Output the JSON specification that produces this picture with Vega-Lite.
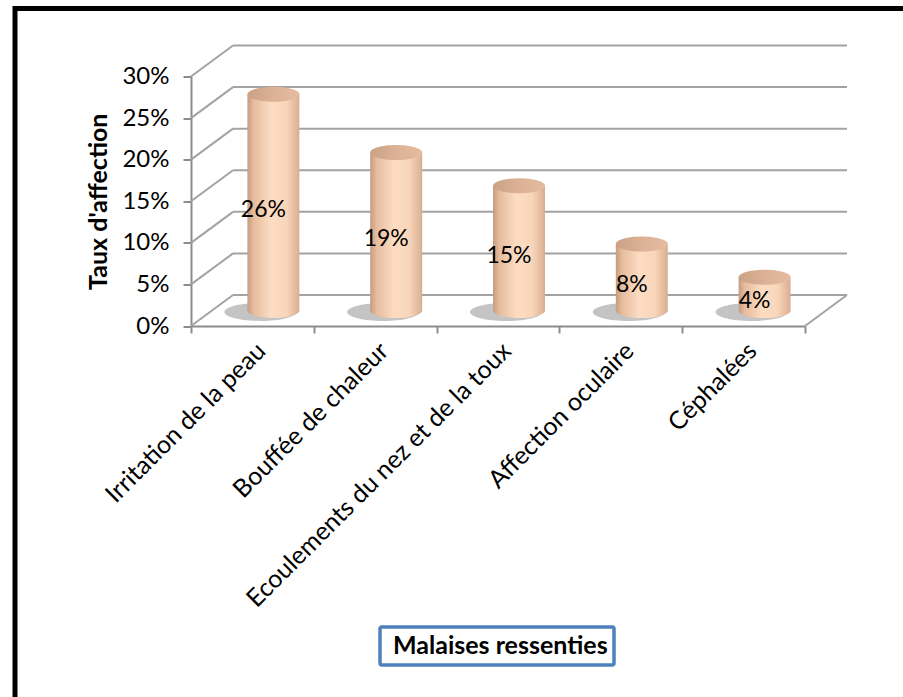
{
  "$schema": "https://vega.github.io/schema/vega-lite/v6.json",
  "autosize": {"type": "none"},
  "padding": {"left": 15, "top": 8.5, "right": 0, "bottom": 0},
  "width": 900,
  "height": 700,
  "background": "white",
  "config": {
    "view": {"stroke": "#000000", "strokeWidth": 5},
    "font": "Lato",
    "axisX": {"orient": "bottom", "offset": -382.5, "domainColor": "#8c8c8c", "domainWidth": 2, "tickColor": "#8c8c8c", "tickWidth": 2, "tickSize": 7, "tickBand": "extent", "labelAngle": -45, "labelFontSize": 25, "labelFont": "Lato", "labelColor": "#000000", "labelPadding": 5, "labelLimit": 0, "grid": false},
    "axisY": {"orient": "left", "offset": -176, "grid": false, "domainColor": "#8c8c8c", "domainWidth": 2, "tickColor": "#8c8c8c", "tickWidth": 2, "tickSize": 8, "labelFontSize": 24, "labelFont": "Lato", "labelColor": "#000000", "labelPadding": 14, "titleFontSize": 25, "titleFont": "Lato", "titleFontWeight": "bold", "titleColor": "#000000", "titlePadding": 10}
  },
  "datasets": {
    "bars": [
      {"cat": "Irritation de la peau", "value": 0.26},
      {"cat": "Bouffée de chaleur", "value": 0.19},
      {"cat": "Ecoulements du nez et de la toux", "value": 0.15},
      {"cat": "Affection oculaire", "value": 0.08},
      {"cat": "Céphalées", "value": 0.04}
    ],
    "ticks": [
      {"t": 0}, {"t": 0.05}, {"t": 0.1}, {"t": 0.15}, {"t": 0.2}, {"t": 0.25}, {"t": 0.3}
    ],
    "floor": [{"t": 0}]
  },
  "resolve": {"scale": {"y": "independent"}},
  "layer": [
    {
      "layer": [
        {
          "data": {"name": "ticks"},
          "mark": {"type": "rule", "color": "#a3a3a3", "strokeWidth": 2, "xOffset": 42, "x2Offset": 42, "yOffset": -31},
          "encoding": {
            "y": {"field": "t", "type": "quantitative", "title": "Taux d'affection", "scale": {"domain": [0, 0.3], "range": [317.5, 68], "nice": false, "zero": true}, "axis": {"values": [0, 0.05, 0.1, 0.15, 0.2, 0.25, 0.3], "format": ".0%"}},
            "x": {"datum": "Irritation de la peau", "type": "nominal", "bandPosition": 0, "title": null, "scale": {"type": "band", "domain": ["Irritation de la peau", "Bouffée de chaleur", "Ecoulements du nez et de la toux", "Affection oculaire", "Céphalées"], "range": [176, 790], "paddingInner": 0, "paddingOuter": 0}},
            "x2": {"datum": "Céphalées", "bandPosition": 1}
          }
        },
        {
          "data": {"name": "ticks"},
          "mark": {"type": "rule", "color": "#a3a3a3", "strokeWidth": 2, "x2Offset": 42, "y2Offset": -31},
          "encoding": {
            "y": {"field": "t", "type": "quantitative", "title": "Taux d'affection"},
            "y2": {"field": "t"},
            "x": {"datum": "Irritation de la peau", "type": "nominal", "bandPosition": 0, "title": null},
            "x2": {"datum": "Irritation de la peau", "bandPosition": 0}
          }
        },
        {
          "data": {"name": "floor"},
          "mark": {"type": "rule", "color": "#a3a3a3", "strokeWidth": 2, "x2Offset": 42, "y2Offset": -31},
          "encoding": {
            "y": {"field": "t", "type": "quantitative", "title": "Taux d'affection"},
            "y2": {"field": "t"},
            "x": {"datum": "Céphalées", "type": "nominal", "bandPosition": 1, "title": null},
            "x2": {"datum": "Céphalées", "bandPosition": 1}
          }
        },
        {
          "data": {"name": "bars"},
          "mark": {"type": "point", "shape": "M-1,0C-1,-0.138,-0.552,-0.25,0,-0.25C0.552,-0.25,1,-0.138,1,0C1,0.138,0.552,0.25,0,0.25C-0.552,0.25,-1,0.138,-1,0Z", "filled": true, "fill": "#8a8a8a", "opacity": 0.5, "strokeWidth": 0, "size": 5184, "xOffset": 8, "yOffset": -14},
          "encoding": {
            "x": {"field": "cat", "type": "nominal", "title": null},
            "y": {"datum": 0, "type": "quantitative", "title": "Taux d'affection"}
          }
        },
        {
          "data": {"name": "bars"},
          "mark": {"type": "point", "shape": "M-1,0C-1,-0.16,-0.552,-0.29,0,-0.29C0.552,-0.29,1,-0.16,1,0C1,0.16,0.552,0.29,0,0.29C-0.552,0.29,-1,0.16,-1,0Z", "filled": true, "strokeWidth": 0, "opacity": 1, "size": 2704, "xOffset": 21, "yOffset": -15.5,
            "fill": {"gradient": "linear", "x1": 0, "y1": 0, "x2": 1, "y2": 0, "stops": [{"offset": 0, "color": "#c49c80"}, {"offset": 0.12, "color": "#e6bc9e"}, {"offset": 0.45, "color": "#fcdcc2"}, {"offset": 0.75, "color": "#f9d6ba"}, {"offset": 1, "color": "#d9ae90"}]}},
          "encoding": {
            "x": {"field": "cat", "type": "nominal", "title": null},
            "y": {"datum": 0, "type": "quantitative", "title": "Taux d'affection"}
          }
        },
        {
          "data": {"name": "bars"},
          "mark": {"type": "bar", "width": 52, "xOffset": 21, "yOffset": -15.5, "y2Offset": -15.5,
            "fill": {"gradient": "linear", "x1": 0, "y1": 0, "x2": 1, "y2": 0, "stops": [{"offset": 0, "color": "#c49c80"}, {"offset": 0.12, "color": "#e6bc9e"}, {"offset": 0.45, "color": "#fcdcc2"}, {"offset": 0.75, "color": "#f9d6ba"}, {"offset": 1, "color": "#d9ae90"}]}},
          "encoding": {
            "x": {"field": "cat", "type": "nominal", "title": null},
            "y": {"field": "value", "type": "quantitative", "title": "Taux d'affection"},
            "y2": {"datum": 0}
          }
        },
        {
          "data": {"name": "bars"},
          "mark": {"type": "point", "shape": "M-1,0C-1,-0.16,-0.552,-0.29,0,-0.29C0.552,-0.29,1,-0.16,1,0C1,0.16,0.552,0.29,0,0.29C-0.552,0.29,-1,0.16,-1,0Z", "filled": true, "strokeWidth": 0, "opacity": 1, "size": 2704, "xOffset": 21, "yOffset": -15.5,
            "fill": {"gradient": "linear", "x1": 0, "y1": 0, "x2": 1, "y2": 0, "stops": [{"offset": 0, "color": "#cba286"}, {"offset": 0.5, "color": "#dcb195"}, {"offset": 1, "color": "#e5bca0"}]}},
          "encoding": {
            "x": {"field": "cat", "type": "nominal", "title": null},
            "y": {"field": "value", "type": "quantitative", "title": "Taux d'affection"}
          }
        }
      ]
    },
    {
      "data": {"name": "bars"},
      "mark": {"type": "text", "fontSize": 23, "font": "Lato", "dx": 11, "dy": -8},
      "encoding": {
        "x": {"field": "cat", "type": "nominal", "title": null},
        "y": {"field": "value", "type": "quantitative", "scale": {"domain": [0, 0.6], "range": [317.5, 68], "nice": false, "zero": true}, "axis": null},
        "text": {"field": "value", "type": "quantitative", "format": ".0%"},
        "color": {"datum": "Malaises ressenties", "type": "nominal", "scale": {"range": ["#000000"]},
          "legend": {"orient": "none", "legendX": 365, "legendY": 618.5, "title": null, "padding": 6, "strokeColor": "#4f81bd", "cornerRadius": 2, "symbolSize": 0, "symbolOpacity": 0, "symbolStrokeWidth": 0, "labelOffset": -18, "labelLimit": 0, "labelFontSize": 25, "labelFont": "Lato", "labelFontWeight": "bold", "labelColor": "#000000",
            "encode": {"legend": {"update": {"strokeWidth": {"value": 3.5}}}}}}
      }
    }
  ]
}
